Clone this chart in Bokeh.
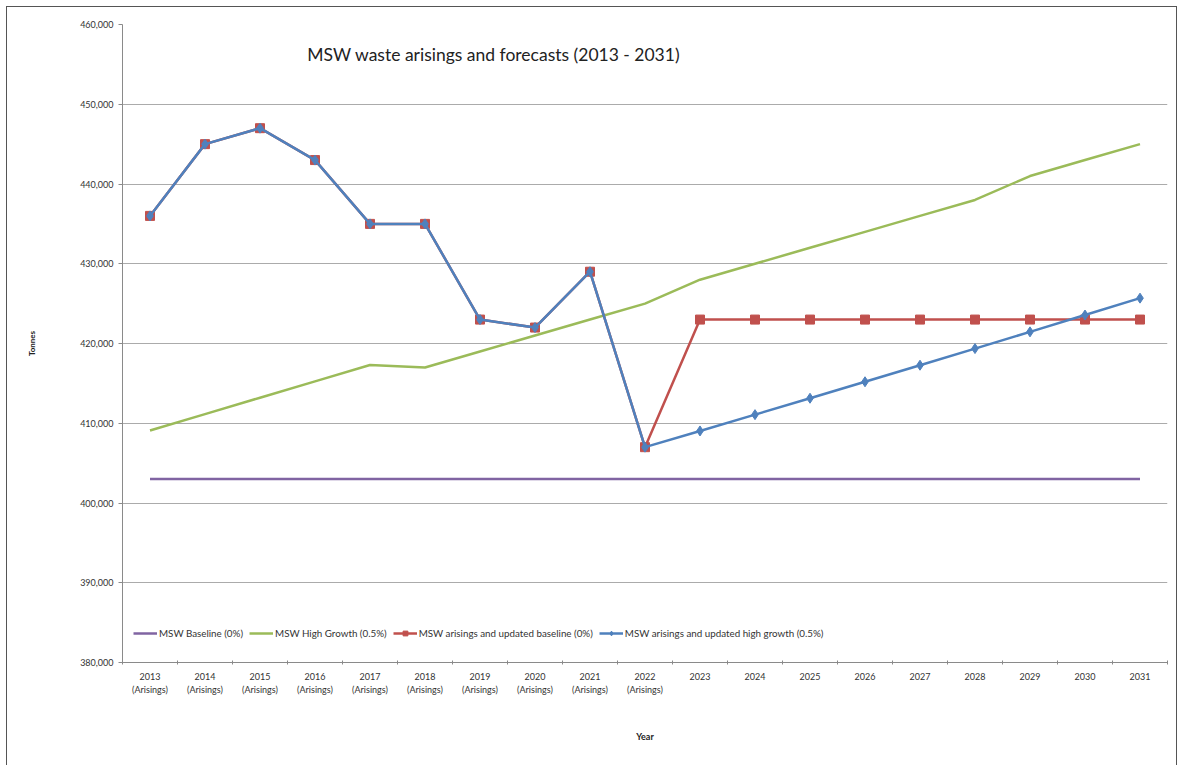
from bokeh.plotting import figure
from bokeh.models import (ColumnDataSource, FixedTicker, NumeralTickFormatter, Legend,
                          LegendItem, Label, Range1d)
from bokeh.embed import file_html
from bokeh.resources import INLINE

# ---------------- data ----------------
years = ["2013", "2014", "2015", "2016", "2017", "2018", "2019", "2020", "2021", "2022",
         "2023", "2024", "2025", "2026", "2027", "2028", "2029", "2030", "2031"]
tick_labels = ["2013\n(Arisings)", "2014\n(Arisings)", "2015\n(Arisings)", "2016\n(Arisings)",
               "2017\n(Arisings)", "2018\n(Arisings)", "2019\n(Arisings)", "2020\n(Arisings)",
               "2021\n(Arisings)", "2022\n(Arisings)", "2023", "2024", "2025", "2026",
               "2027", "2028", "2029", "2030", "2031"]

msw_baseline = [403000] * 19
msw_high_growth = [409100, 411150, 413200, 415250, 417300, 417000, 419000, 421000, 423000,
                   425000, 428000, 430000, 432000, 434000, 436000, 438000, 441000, 443000,
                   445000]
arisings_updated_baseline = [436000, 445000, 447000, 443000, 435000, 435000, 423000, 422000,
                             429000, 407000, 423000, 423000, 423000, 423000, 423000, 423000,
                             423000, 423000, 423000]
arisings_updated_high = [436000, 445000, 447000, 443000, 435000, 435000, 423000, 422000,
                         429000, 407000, 409035, 411080, 413136, 415201, 417277, 419364,
                         421461, 423568, 425686]

y_ticks = [380000, 390000, 400000, 410000, 420000, 430000, 440000, 450000, 460000]

title_text = "MSW waste arisings and forecasts (2013 - 2031)"
names = ["MSW Baseline (0%)", "MSW High Growth (0.5%)",
         "MSW arisings and updated baseline (0%)",
         "MSW arisings and updated high growth (0.5%)"]

# ---------------- figure ----------------
FONT = "Lato"
x = list(range(len(years)))

p = figure(width=1171, height=759, output_backend="svg", toolbar_location=None,
           x_range=Range1d(-0.5, len(years) - 0.5), y_range=Range1d(380000, 460000),
           min_border_left=115, min_border_right=11, min_border_top=17, min_border_bottom=104)
p.margin = (6, 0, 0, 6)
p.styles = {"border-left": "1px solid #555555", "border-top": "1px solid #555555",
            "border-right": "1px solid #555555"}
p.outline_line_color = None
p.background_fill_color = "white"
p.border_fill_color = "white"

src = ColumnDataSource(dict(x=x, base=msw_baseline, high=msw_high_growth,
                            upd_base=arisings_updated_baseline, upd_high=arisings_updated_high))

r_base = p.line("x", "base", source=src, line_color="#8064A2", line_width=2.5)
r_high = p.line("x", "high", source=src, line_color="#9BBB59", line_width=2.5)
r_ub_l = p.line("x", "upd_base", source=src, line_color="#C0504D", line_width=2.5)
r_ub_m = p.scatter("x", "upd_base", source=src, marker="square", size=9,
                   fill_color="#C0504D", line_color="#C0504D")
r_uh_l = p.line("x", "upd_high", source=src, line_color="#4F81BD", line_width=2.5)
r_uh_m = p.scatter("x", "upd_high", source=src, marker="diamond", size=10,
                   fill_color="#4F81BD", line_color="#4F81BD")

# axes
xa = p.xaxis[0]
xa.ticker = FixedTicker(ticks=x, minor_ticks=[i - 0.5 for i in range(len(years) + 1)])
xa.major_label_overrides = {i: lab for i, lab in enumerate(tick_labels)}
xa.major_tick_line_color = None
xa.minor_tick_line_color = "#8a8a8a"
xa.minor_tick_in = 2
xa.minor_tick_out = 2
xa.axis_line_color = "#8a8a8a"
xa.major_label_standoff = 2
xa.major_label_text_font = FONT
xa.major_label_text_font_size = "9px"
xa.major_label_text_color = "#333333"
xa.axis_label = "Year"
xa.axis_label_text_font = FONT
xa.axis_label_text_font_size = "9px"
xa.axis_label_text_font_style = "bold"
xa.axis_label_text_color = "#222222"
xa.axis_label_standoff = 33

ya = p.yaxis[0]
ya.ticker = FixedTicker(ticks=y_ticks)
ya.formatter = NumeralTickFormatter(format="0,0")
ya.minor_tick_line_color = None
ya.major_tick_in = 0
ya.major_tick_out = 4
ya.major_tick_line_color = "#8a8a8a"
ya.axis_line_color = "#8a8a8a"
ya.major_label_standoff = 5
ya.major_label_text_font = FONT
ya.major_label_text_font_size = "9px"
ya.major_label_text_color = "#333333"
ya.axis_label = "Tonnes"
ya.axis_label_text_font = FONT
ya.axis_label_text_font_size = "8px"
ya.axis_label_text_font_style = "bold"
ya.axis_label_text_color = "#222222"
ya.axis_label_standoff = 40

p.xgrid.grid_line_color = None
p.ygrid.grid_line_color = "#ababab"
p.ygrid.grid_line_width = 1.2

# title inside plot area
p.add_layout(Label(x=6.25, y=456300, text=title_text, text_font=FONT,
                   text_font_size="17.5px", text_color="#222222",
                   text_align="center", text_baseline="middle"))

legend = Legend(items=[LegendItem(label=names[0], renderers=[r_base]),
                       LegendItem(label=names[1], renderers=[r_high]),
                       LegendItem(label=names[2], renderers=[r_ub_l, r_ub_m]),
                       LegendItem(label=names[3], renderers=[r_uh_l, r_uh_m])],
                orientation="horizontal", location=(11, 23),
                label_text_font=FONT, label_text_font_size="9.8px", label_text_color="#333333",
                glyph_width=24, glyph_height=12, spacing=6, padding=0, margin=0,
                label_standoff=2, border_line_color=None, background_fill_alpha=0)
p.add_layout(legend, "center")

open("out.html", "w").write(file_html(p, INLINE))
